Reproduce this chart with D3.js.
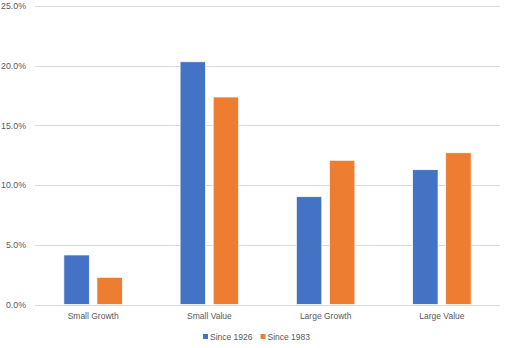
<!DOCTYPE html>
<html><head><meta charset="utf-8">
<script src="https://cdn.jsdelivr.net/npm/d3@7"></script>
<style>body{margin:0;background:#fff;}svg{display:block;font-family:"Liberation Sans","DejaVu Sans",sans-serif;}</style>
</head><body><svg id="c" width="510" height="348"></svg>
<script>
const categories = ["Small Growth", "Small Value", "Large Growth", "Large Value"];
const seriesNames = ["Since 1926", "Since 1983"];
const since1926 = [4.15, 20.33, 9.03, 11.29];
const since1983 = [2.28, 17.38, 12.08, 12.71];
const yTicks = [0, 5, 10, 15, 20, 25];
const colors = ["#4472C4", "#ED7D31"];

const svg = d3.select("#c");
const mLeft = 35, mRight = 500, mTop = 6, mBottom = 304.5;

const x = d3.scaleBand().domain(categories).range([mLeft, mRight]).paddingInner(0).paddingOuter(0);
const y = d3.scaleLinear().domain([0, 25]).range([mBottom, mTop]);
const inner = d3.scaleBand().domain(seriesNames).range([x.bandwidth()*0.248, x.bandwidth()*0.752]).paddingInner(0.23);

// gridlines
svg.append("g").selectAll("line").data(yTicks).join("line")
  .attr("x1", mLeft).attr("x2", mRight)
  .attr("y1", d => Math.round(y(d)) + 0.5).attr("y2", d => Math.round(y(d)) + 0.5)
  .attr("stroke", "#D9D9D9").attr("stroke-width", 1);

// y axis labels
const yAxis = d3.axisLeft(y).tickValues(yTicks).tickSize(0).tickPadding(0)
  .tickFormat(d => d.toFixed(1) + "%");
const ga = svg.append("g").attr("transform", `translate(26,0)`).call(yAxis);
ga.select(".domain").remove();
ga.selectAll("text").attr("fill", "#595959").attr("font-size", 8.8).attr("font-family", "Liberation Sans, sans-serif");

// bars
const data = categories.map((c, i) => ({cat: c, vals: [since1926[i], since1983[i]]}));
const groups = svg.append("g").selectAll("g").data(data).join("g")
  .attr("transform", d => `translate(${x(d.cat)},0)`);
groups.selectAll("rect").data(d => d.vals.map((v, j) => ({s: seriesNames[j], v, j}))).join("rect")
  .attr("x", d => inner(d.s)).attr("width", inner.bandwidth())
  .attr("y", d => y(d.v)).attr("height", d => y(0) - y(d.v))
  .attr("fill", d => colors[d.j]).attr("stroke", "#fff").attr("stroke-width", 0.75);

// x axis labels
const xAxis = d3.axisBottom(x).tickSize(0).tickPadding(0);
const gx = svg.append("g").attr("transform", `translate(0,${mBottom + 8})`).call(xAxis);
gx.select(".domain").remove();
gx.selectAll("text").attr("fill", "#595959").attr("font-size", 8.5).attr("font-family", "Liberation Sans, sans-serif");

// legend
const legend = svg.append("g").attr("transform", "translate(203,337)");
const items = [{n: seriesNames[0], c: colors[0], dx: 0}, {n: seriesNames[1], c: colors[1], dx: 57.5}];
const li = legend.selectAll("g").data(items).join("g").attr("transform", d => `translate(${d.dx},0)`);
li.append("rect").attr("x", 0).attr("y", -3).attr("width", 5).attr("height", 5).attr("fill", d => d.c);
li.append("text").attr("x", 7).attr("y", 0).attr("dy", "0.35em").text(d => d.n)
  .attr("fill", "#595959").attr("font-size", 8.5);
</script></body></html>
